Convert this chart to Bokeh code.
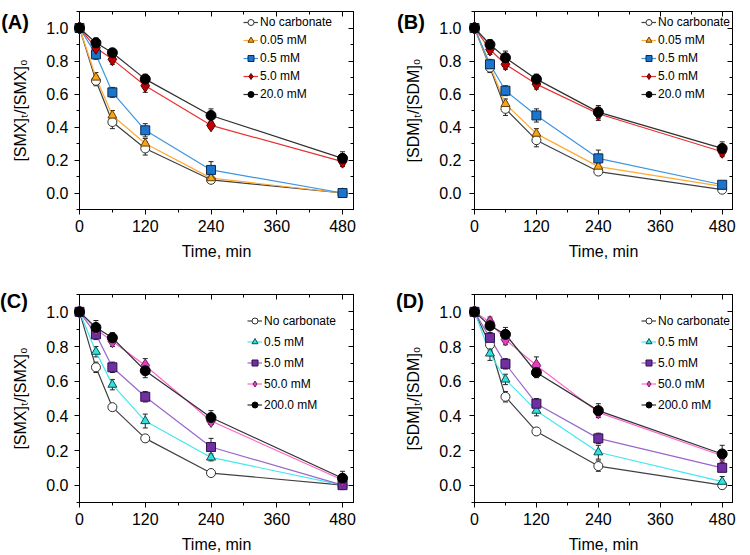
from bokeh.plotting import figure
from bokeh.models import (ColumnDataSource, Whisker, TeeHead, Legend, LegendItem,
                          LinearAxis, FixedTicker, Range1d,
                          NumeralTickFormatter, CustomLabelingPolicy)
from bokeh.core.properties import value
from bokeh.layouts import column, row
from bokeh.embed import file_html
from bokeh.resources import INLINE

FONT = "Liberation Sans"

# ---------------- data ----------------
time_min = [0, 30, 60, 120, 240, 480]
x_ticks = [0, 120, 240, 360, 480]
x_minor = [60, 180, 300, 420]
y_ticks = [0.0, 0.2, 0.4, 0.6, 0.8, 1.0]
y_minor = [-0.1, 0.1, 0.3, 0.5, 0.7, 0.9, 1.1]

labels_ab = ["No carbonate", "0.05 mM", "0.5 mM", "5.0 mM", "20.0 mM"]
labels_cd = ["No carbonate", "0.5 mM", "5.0 mM", "50.0 mM", "200.0 mM"]

# Panel A: SMX, low carbonate
a_nc = [1.0, 0.68, 0.43, 0.27, 0.08, 0.0]
a_005 = [1.0, 0.70, 0.47, 0.30, 0.09, 0.0]
a_05 = [1.0, 0.84, 0.61, 0.38, 0.14, 0.0]
a_5 = [1.0, 0.88, 0.81, 0.65, 0.41, 0.19]
a_20 = [1.0, 0.91, 0.85, 0.69, 0.47, 0.21]
a_nc_err = [0.0, 0.03, 0.04, 0.04, 0.02, 0.0]
a_005_err = [0.0, 0.03, 0.03, 0.03, 0.02, 0.0]
a_05_err = [0.0, 0.03, 0.03, 0.04, 0.05, 0.0]
a_5_err = [0.0, 0.03, 0.03, 0.04, 0.02, 0.03]
a_20_err = [0.0, 0.03, 0.02, 0.03, 0.04, 0.04]

# Panel B: SDM, low carbonate
b_nc = [1.0, 0.76, 0.51, 0.32, 0.13, 0.02]
b_005 = [1.0, 0.77, 0.54, 0.36, 0.16, 0.04]
b_05 = [1.0, 0.78, 0.62, 0.47, 0.21, 0.05]
b_5 = [1.0, 0.87, 0.78, 0.66, 0.48, 0.25]
b_20 = [1.0, 0.90, 0.82, 0.69, 0.49, 0.27]
b_nc_err = [0.0, 0.03, 0.04, 0.04, 0.02, 0.01]
b_005_err = [0.0, 0.03, 0.03, 0.03, 0.02, 0.01]
b_05_err = [0.0, 0.03, 0.03, 0.04, 0.05, 0.01]
b_5_err = [0.0, 0.03, 0.03, 0.03, 0.04, 0.03]
b_20_err = [0.0, 0.03, 0.04, 0.03, 0.04, 0.04]

# Panel C: SMX, high carbonate
c_nc = [1.0, 0.68, 0.45, 0.27, 0.07, 0.0]
c_05 = [1.0, 0.77, 0.58, 0.37, 0.16, 0.0]
c_5 = [1.0, 0.87, 0.68, 0.51, 0.22, 0.0]
c_50 = [1.0, 0.90, 0.83, 0.69, 0.37, 0.03]
c_200 = [1.0, 0.91, 0.85, 0.66, 0.39, 0.04]
c_nc_err = [0.0, 0.03, 0.02, 0.02, 0.01, 0.0]
c_05_err = [0.0, 0.03, 0.03, 0.04, 0.02, 0.0]
c_5_err = [0.0, 0.03, 0.03, 0.03, 0.05, 0.0]
c_50_err = [0.0, 0.03, 0.03, 0.04, 0.02, 0.02]
c_200_err = [0.0, 0.04, 0.03, 0.04, 0.04, 0.04]

# Panel D: SDM, high carbonate
d_nc = [1.0, 0.81, 0.51, 0.31, 0.11, 0.0]
d_05 = [1.0, 0.76, 0.61, 0.43, 0.19, 0.02]
d_5 = [1.0, 0.85, 0.70, 0.47, 0.27, 0.10]
d_50 = [1.0, 0.94, 0.84, 0.69, 0.42, 0.17]
d_200 = [1.0, 0.92, 0.87, 0.65, 0.43, 0.18]
d_nc_err = [0.0, 0.03, 0.03, 0.02, 0.03, 0.0]
d_05_err = [0.0, 0.04, 0.03, 0.03, 0.04, 0.03]
d_5_err = [0.0, 0.03, 0.03, 0.03, 0.03, 0.02]
d_50_err = [0.0, 0.03, 0.03, 0.05, 0.02, 0.03]
d_200_err = [0.0, 0.04, 0.04, 0.03, 0.04, 0.05]

# ---------------- styles ----------------
style_ab = [
    dict(marker="circle", size=9, fill="white", edge="#303030", line="#404040"),
    dict(marker="triangle", size=9, fill="#F5A31A", edge="#6A4000", line="#FFAA33"),
    dict(marker="square", size=9, fill="#1C75CC", edge="#0A2A50", line="#3D95E0"),
    dict(marker="diamond", size=13, fill="#C00000", edge="#500000", line="#E83030"),
    dict(marker="circle", size=10, fill="black", edge="black", line="#303030"),
]
style_cd = [
    dict(marker="circle", size=9, fill="white", edge="#303030", line="#404040"),
    dict(marker="triangle", size=9, fill="#33E0E0", edge="#105050", line="#40E8F0"),
    dict(marker="square", size=9, fill="#7030A0", edge="#301050", line="#9966CC"),
    dict(marker="diamond", size=13, fill="#E040C0", edge="#702060", line="#FF66CC"),
    dict(marker="circle", size=10, fill="black", edge="black", line="#303030"),
]

NO_LABELS = CustomLabelingPolicy(
    code="for (const i of Array.from(indices)) { indices.unset(i) } return indices")


def make_panel(tag, tag_xy, ylabel, labels, ys, errs, styles, width, height,
               bl, br, bt, bb, ystandoff, leg_loc, leg_h):
    p = figure(width=width, height=height, x_range=Range1d(0, 500),
               y_range=Range1d(-0.1, 1.1), output_backend="svg",
               toolbar_location=None, min_border_left=bl, min_border_right=br,
               min_border_top=bt, min_border_bottom=bb)
    p.grid.visible = False
    p.outline_line_color = "black"
    p.background_fill_color = "white"
    p.border_fill_color = "white"

    xa = p.xaxis[0]
    xa.ticker = FixedTicker(ticks=x_ticks, minor_ticks=x_minor)
    xa.axis_label = "Time, min"
    ya = p.yaxis[0]
    ya.ticker = FixedTicker(ticks=y_ticks, minor_ticks=y_minor)
    ya.axis_label = ylabel
    ya.formatter = NumeralTickFormatter(format="0.0")
    for ax in (xa, ya):
        ax.axis_line_color = "black"
        ax.major_tick_line_color = "black"
        ax.minor_tick_line_color = "black"
        ax.major_tick_out = 5
        ax.major_tick_in = 0
        ax.minor_tick_out = 3
        ax.minor_tick_in = 0
        ax.major_label_text_font = FONT
        ax.major_label_text_font_size = "16px"
        ax.major_label_text_color = "black"
        ax.axis_label_text_font = FONT
        ax.axis_label_text_font_size = "16px"
        ax.axis_label_text_font_style = "normal"
        ax.axis_label_text_color = "black"
    xa.major_label_standoff = 5
    xa.axis_label_standoff = 8
    ya.major_label_standoff = ystandoff
    ya.axis_label_standoff = 14

    top = LinearAxis(ticker=FixedTicker(ticks=x_ticks, minor_ticks=x_minor))
    right = LinearAxis(ticker=FixedTicker(ticks=y_ticks, minor_ticks=y_minor))
    for ax in (top, right):
        ax.axis_line_color = "black"
        ax.major_tick_line_color = "black"
        ax.minor_tick_line_color = "black"
        ax.major_tick_out = 0
        ax.major_tick_in = 5
        ax.minor_tick_out = 0
        ax.minor_tick_in = 3
        ax.major_label_policy = NO_LABELS
        ax.major_label_standoff = 0
    p.add_layout(top, "above")
    p.add_layout(right, "right")

    items = []
    for lab, y, e, st in zip(labels, ys, errs, styles):
        src = ColumnDataSource(dict(
            x=time_min, y=y,
            upper=[v + d for v, d in zip(y, e)],
            lower=[v - d for v, d in zip(y, e)],
        ))
        lr = p.line("x", "y", source=src, line_color=st["line"], line_width=1.2)
        w = Whisker(source=src, base="x", upper="upper", lower="lower",
                    line_color="#222222", line_width=1,
                    upper_head=TeeHead(size=5, line_color="#222222", line_width=1),
                    lower_head=TeeHead(size=5, line_color="#222222", line_width=1))
        p.add_layout(w)
        items.append((lab, lr, src, st))
    legend_items = []
    for lab, lr, src, st in items:
        sr = p.scatter("x", "y", source=src, marker=st["marker"], size=st["size"],
                       fill_color=st["fill"], line_color=st["edge"], line_width=1,
                       level="overlay")
        legend_items.append(LegendItem(label=lab, renderers=[lr, sr]))

    leg = Legend(items=legend_items, location=leg_loc, padding=0, margin=0,
                 spacing=0, glyph_width=15, glyph_height=leg_h, label_height=leg_h,
                 label_standoff=2, label_text_font=FONT, label_text_font_size="12px",
                 label_text_color="black", border_line_alpha=0,
                 background_fill_alpha=0)
    p.add_layout(leg)

    p.text(x=[tag_xy[0]], y=[tag_xy[1]], text=[tag], text_font=value(FONT),
           text_font_size="20px", text_font_style="bold",
           text_baseline="middle", text_align="left",
           text_color="black", level="overlay")
    return p


pA = make_panel("(A)", (-143, 1.035), "[SMX]\u209c/[SMX]\u2080", labels_ab,
                [a_nc, a_005, a_05, a_5, a_20],
                [a_nc_err, a_005_err, a_05_err, a_5_err, a_20_err], style_ab,
                375, 280, 79, 22, 1, 71, 6, (164, 106), 18)
pB = make_panel("(B)", (-150, 1.035), "[SDM]\u209c/[SDM]\u2080", labels_ab,
                [b_nc, b_005, b_05, b_5, b_20],
                [b_nc_err, b_005_err, b_05_err, b_5_err, b_20_err], style_ab,
                375, 280, 99, 4, 1, 71, 8, (167, 106), 18)
pC = make_panel("(C)", (-145, 1.065), "[SMX]\u209c/[SMX]\u2080", labels_cd,
                [c_nc, c_05, c_5, c_50, c_200],
                [c_nc_err, c_05_err, c_5_err, c_50_err, c_200_err], style_cd,
                375, 275, 79, 22, 14, 53, 6, (168, 87), 21)
pD = make_panel("(D)", (-152, 1.065), "[SDM]\u209c/[SDM]\u2080", labels_cd,
                [d_nc, d_05, d_5, d_50, d_200],
                [d_nc_err, d_05_err, d_5_err, d_50_err, d_200_err], style_cd,
                375, 275, 99, 4, 14, 53, 8, (167, 87), 21)

layout = column(row(pA, pB), row(pC, pD))

open("out.html", "w").write(file_html(layout, INLINE))
